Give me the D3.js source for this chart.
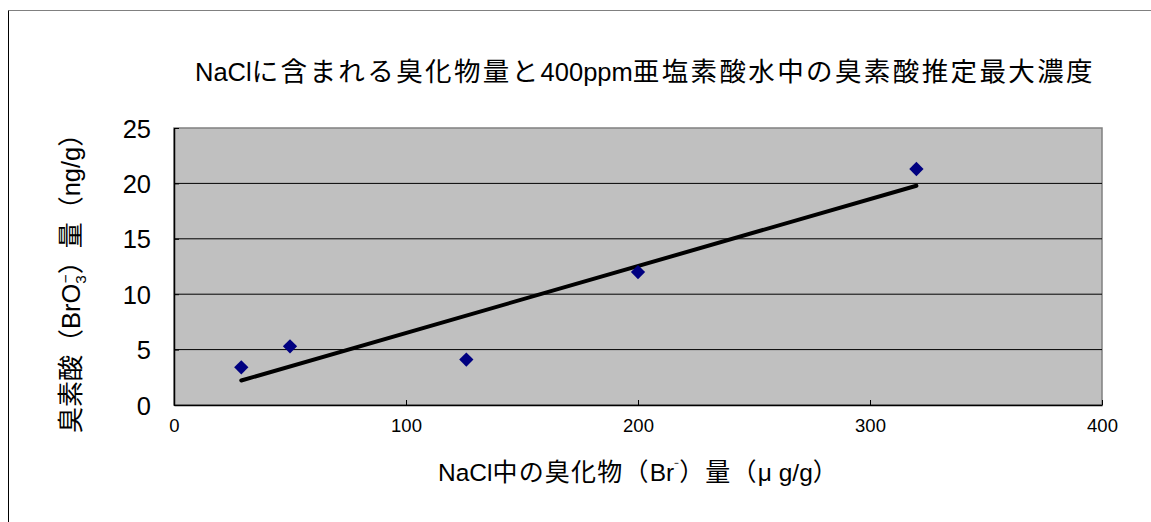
<!DOCTYPE html>
<html><head><meta charset="utf-8">
<script src="https://cdn.jsdelivr.net/npm/d3@7"></script>
<style>html,body{margin:0;padding:0;background:#fff;}svg{display:block;}</style>
</head><body>
<script>
const titleText = "NaClに含まれる臭化物量と400ppm亜塩素酸水中の臭素酸推定最大濃度";
const xLabelRuns = [{t: "NaCl中の臭化物（Br"}, {t: "⁻", sup: true}, {t: "）量（μ g/g）"}];
const yLabelRuns = [{t: "臭素酸（BrO"}, {t: "3", sub: true}, {t: "−", supBack: true}, {t: "）量（ng/g）"}];
const bromide = [29, 50, 126, 200, 320];
const bromate = [3.4, 5.3, 4.1, 12.0, 21.3];
const xTicks = [0, 100, 200, 300, 400];
const yTicks = [0, 5, 10, 15, 20, 25];

const W = 1151, H = 522;
const F = '"Liberation Sans", Arial, "Noto Sans CJK JP", sans-serif';
const FJ = '"Noto Sans CJK JP", sans-serif';
const svg = d3.select("body").append("svg").attr("width", W).attr("height", H);

// outer chart border
svg.append("line").attr("x1", 8.5).attr("y1", 10.5).attr("x2", W + 2).attr("y2", 10.5).attr("stroke", "#808080").attr("stroke-width", 1);
svg.append("line").attr("x1", 8.5).attr("y1", 10.5).attr("x2", 8.5).attr("y2", H + 2).attr("stroke", "#000").attr("stroke-width", 1);

const x = d3.scaleLinear().domain([0, 400]).range([174, 1102]);
const y = d3.scaleLinear().domain([0, 25]).range([405, 128]);

// plot area
svg.append("rect").attr("x", x(0)).attr("y", y(25)).attr("width", x(400) - x(0)).attr("height", y(0) - y(25))
  .attr("fill", "#C0C0C0").attr("stroke", "#808080").attr("stroke-width", 1.5);

// gridlines
svg.append("g").selectAll("line").data(yTicks.filter(d => d > 0 && d < 25)).join("line")
  .attr("x1", x(0)).attr("x2", x(400)).attr("y1", d => y(d)).attr("y2", d => y(d))
  .attr("stroke", "#000").attr("stroke-width", 1);

// axes
const xAxis = d3.axisBottom(x).tickValues(xTicks).tickSizeInner(-5).tickSizeOuter(0).tickFormat(d3.format("d"));
const gx = svg.append("g").attr("transform", `translate(0,${y(0)})`).call(xAxis);
gx.select(".domain").attr("stroke", "#000").attr("stroke-width", 1.5);
gx.selectAll(".tick line").attr("stroke", "#000");
gx.selectAll(".tick text").attr("font-family", F).attr("font-size", 18.5).attr("fill", "#000").attr("y", 14);

const yAxis = d3.axisLeft(y).tickValues(yTicks).tickSizeInner(-5).tickSizeOuter(0);
const gy = svg.append("g").attr("transform", `translate(${x(0)},0)`).call(yAxis);
gy.select(".domain").attr("stroke", "#000").attr("stroke-width", 1.5);
gy.selectAll(".tick line").attr("stroke", "#000");
gy.selectAll(".tick text").attr("font-family", F).attr("font-size", 25.5).attr("fill", "#000").attr("x", -23).attr("dy", "0.36em");

// trend line (least squares)
const mx = d3.mean(bromide), my = d3.mean(bromate);
const slope = d3.sum(bromide.map((v, i) => (v - mx) * (bromate[i] - my))) / d3.sum(bromide.map(v => (v - mx) ** 2));
const icpt = my - slope * mx;
const ext = d3.extent(bromide);
svg.append("path").datum(ext.map(v => [v, icpt + slope * v]))
  .attr("d", d3.line().x(d => x(d[0])).y(d => y(d[1])))
  .attr("stroke", "#000").attr("stroke-width", 4).attr("stroke-linecap", "round").attr("fill", "none");

// points
svg.append("g").selectAll("path").data(bromide.map((v, i) => [v, bromate[i]])).join("path")
  .attr("d", d3.symbol(d3.symbolDiamond2, 130))
  .attr("transform", d => `translate(${x(d[0])},${y(d[1])})`)
  .attr("fill", "#000080");

// rich text helper: CJK runs get non-negative letter-spacing fitted to target width
const CJK = "[\\u3000-\\u9fff\\uff00-\\uffef]";
function richText(sel, runs, size, cjkSize, target) {
  const cjkSpans = [];
  let n = 0;
  runs.forEach(r => {
    if (r.sub || r.sup || r.supBack) {
      const sp = sel.append("tspan").attr("font-size", size * 0.6).text(r.t);
      if (r.sub) sp.attr("dy", size * 0.25);
      if (r.sup) sp.attr("dy", -size * 0.35);
      if (r.supBack) sp.attr("dx", -size * 0.32).attr("dy", -size * 0.62);
      r._sp = sp;
      return;
    }
    const parts = r.t.match(new RegExp(CJK + "+|(?:(?!" + CJK + ").)+", "g"));
    parts.forEach((p, i) => {
      const sp = sel.append("tspan").text(p);
      if (new RegExp(CJK).test(p[0])) { sp.attr("font-size", cjkSize).attr("font-family", FJ); cjkSpans.push(sp); n += p.length; }
      if (i === 0) r._first = sp;
    });
  });
  runs.forEach((r, i) => {
    if (i > 0 && !r._sp && r._first) {
      const prev = runs[i - 1];
      if (prev.sup) r._first.attr("dy", size * 0.35);
      if (prev.supBack) r._first.attr("dy", size * 0.37);
      if (prev.sub) r._first.attr("dy", -size * 0.25);
    }
  });
  const w0 = sel.node().getComputedTextLength();
  const ls = Math.max(0, (target - w0) / n);
  cjkSpans.forEach(sp => sp.attr("letter-spacing", ls));
}

// title
const tt = svg.append("text").attr("x", 195).attr("y", 81).attr("font-family", F).attr("font-size", 25.5).attr("fill", "#000");
richText(tt, [{t: titleText}], 25.5, 26.5, 900);

// x label
const xl = svg.append("text").attr("x", 438).attr("y", 481).attr("font-family", F).attr("font-size", 24.5).attr("fill", "#000");
richText(xl, xLabelRuns, 24.5, 25, 401);

// y label
const yl = svg.append("text").attr("transform", "translate(80,433) rotate(-90)")
  .attr("font-family", F).attr("font-size", 25.5).attr("fill", "#000");
richText(yl, yLabelRuns, 25.5, 26, 305);
</script>
</body></html>
